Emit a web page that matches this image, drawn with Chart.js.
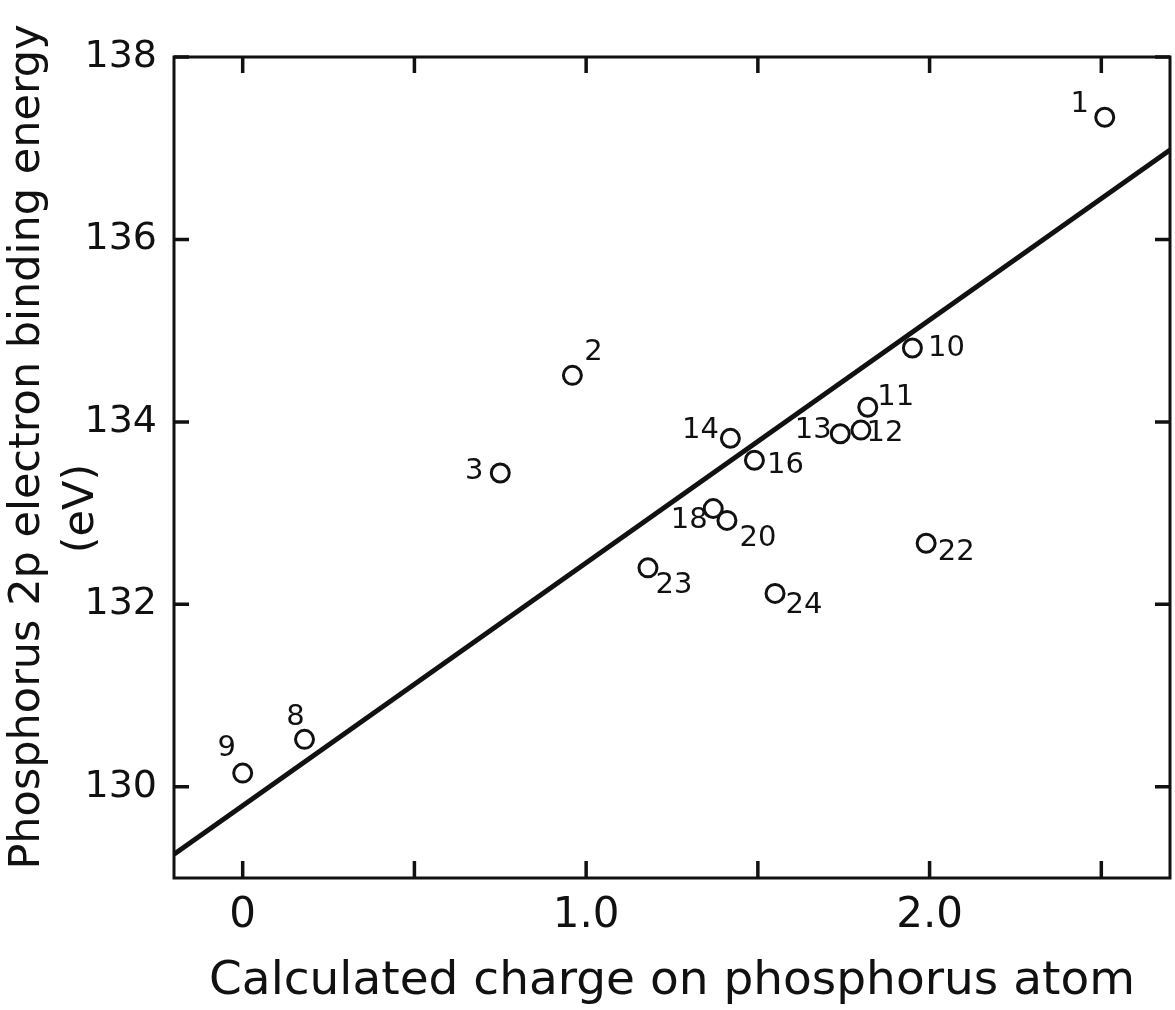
<!DOCTYPE html>
<html>
<head>
<meta charset="utf-8">
<script src="https://cdn.jsdelivr.net/npm/chart.js@4.4.0/dist/chart.umd.min.js"></script>
<style>
html, body { margin: 0; padding: 0; background: #fff; overflow: hidden; }
canvas { display: block; }
</style>
</head>
<body>
<canvas id="grafico" width="1175" height="1010"></canvas>
<script>
// compound numbers and measured values
const compuestos = ['1', '2', '3', '8', '9', '10', '11', '12', '13', '14', '16', '18', '20', '22', '23', '24'];
const carga = [2.51, 0.96, 0.75, 0.18, 0.00, 1.95, 1.82, 1.80, 1.74, 1.42, 1.49, 1.37, 1.41, 1.99, 1.18, 1.55];
const energia = [137.34, 134.51, 133.44, 130.52, 130.15, 134.81, 134.16, 133.91, 133.87, 133.82, 133.58, 133.05, 132.92, 132.67, 132.40, 132.12];

// fitted straight line
const rectaX = [-0.2, 2.7];
const rectaY = [129.26, 136.98];

// axes
const xTicks = [0, 0.5, 1.0, 1.5, 2.0, 2.5];
const xEtiquetas = { 0: '0', 1: '1.0', 2: '2.0' };
const yTicks = [130, 132, 134, 136, 138];

// where each number sits relative to its circle (px)
const desplaz = [[-25, -13], [21, -23], [-26, -2], [-9, -22], [-16, -25], [34, 0], [28, -10], [24, 3],
                 [-27, -3], [-30, -8], [31, 5], [-24, 12], [31, 18], [30, 9], [26, 18], [29, 12]];

const NEGRO = '#111';

const marco = {
    id: 'marco',
    afterDraw(chart) {
        const { ctx, chartArea: a, scales: { x, y } } = chart;
        ctx.save();
        ctx.strokeStyle = NEGRO;
        ctx.lineWidth = 3;
        ctx.strokeRect(a.left, a.top, a.right - a.left, a.bottom - a.top);

        ctx.lineWidth = 3.5;
        ctx.beginPath();
        xTicks.forEach(v => {
            const px = x.getPixelForValue(v);
            ctx.moveTo(px, a.bottom); ctx.lineTo(px, a.bottom - 17);
            ctx.moveTo(px, a.top); ctx.lineTo(px, a.top + 16);
        });
        yTicks.forEach(v => {
            const py = y.getPixelForValue(v);
            ctx.moveTo(a.left, py); ctx.lineTo(a.left + 15, py);
            ctx.moveTo(a.right, py); ctx.lineTo(a.right - 15, py);
        });
        ctx.stroke();

        // compound numbers next to the circles
        ctx.fillStyle = NEGRO;
        ctx.font = '29px "DejaVu Sans"';
        ctx.textAlign = 'center';
        ctx.textBaseline = 'middle';
        chart.getDatasetMeta(0).data.forEach((pt, i) => {
            ctx.fillText(compuestos[i], pt.x + desplaz[i][0], pt.y + desplaz[i][1]);
        });
        ctx.restore();
    }
};

new Chart(document.getElementById('grafico'), {
    type: 'scatter',
    data: {
        datasets: [
            {
                label: 'Compuestos',
                data: carga.map((c, i) => ({ x: c, y: energia[i] })),
                pointStyle: 'circle',
                pointRadius: 9,
                pointBorderWidth: 3,
                borderColor: NEGRO,
                backgroundColor: 'rgba(0,0,0,0)'
            },
            {
                label: 'Recta',
                type: 'line',
                data: rectaX.map((v, i) => ({ x: v, y: rectaY[i] })),
                borderColor: NEGRO,
                borderWidth: 5,
                pointRadius: 0,
                fill: false
            }
        ]
    },
    options: {
        responsive: false,
        animation: false,
        layout: { autoPadding: false, padding: { top: 57, right: 5, left: 0, bottom: 0 } },
        plugins: { legend: { display: false }, tooltip: { enabled: false } },
        scales: {
            x: {
                type: 'linear',
                min: -0.2,
                max: 2.7,
                afterBuildTicks: s => { s.ticks = xTicks.map(v => ({ value: v })); },
                afterFit: s => { s.height = 132; },
                grid: { display: false },
                border: { display: false },
                ticks: {
                    callback: v => xEtiquetas[v] ?? '',
                    color: NEGRO,
                    font: { family: '"DejaVu Sans"', size: 42 },
                    padding: 5,
                    maxRotation: 0,
                    autoSkip: false
                },
                title: {
                    display: true,
                    text: 'Calculated charge on phosphorus atom',
                    color: NEGRO,
                    font: { family: '"DejaVu Sans"', size: 47, lineHeight: 1.2 },
                    padding: { top: 0, bottom: 0 }
                }
            },
            y: {
                min: 129,
                max: 138,
                afterBuildTicks: s => { s.ticks = yTicks.map(v => ({ value: v })); },
                afterFit: s => { s.width = 174; },
                grid: { display: false },
                border: { display: false },
                ticks: {
                    color: NEGRO,
                    font: { family: '"DejaVu Sans"', size: 38 },
                    padding: 9
                },
                title: {
                    display: true,
                    text: ['   Phosphorus 2p electron binding energy', '(eV)      '],
                    color: NEGRO,
                    font: { family: '"DejaVu Sans"', size: 43, lineHeight: 1.25 },
                    padding: { top: 1, bottom: 0 }
                }
            }
        }
    },
    plugins: [marco]
});
</script>
</body>
</html>
